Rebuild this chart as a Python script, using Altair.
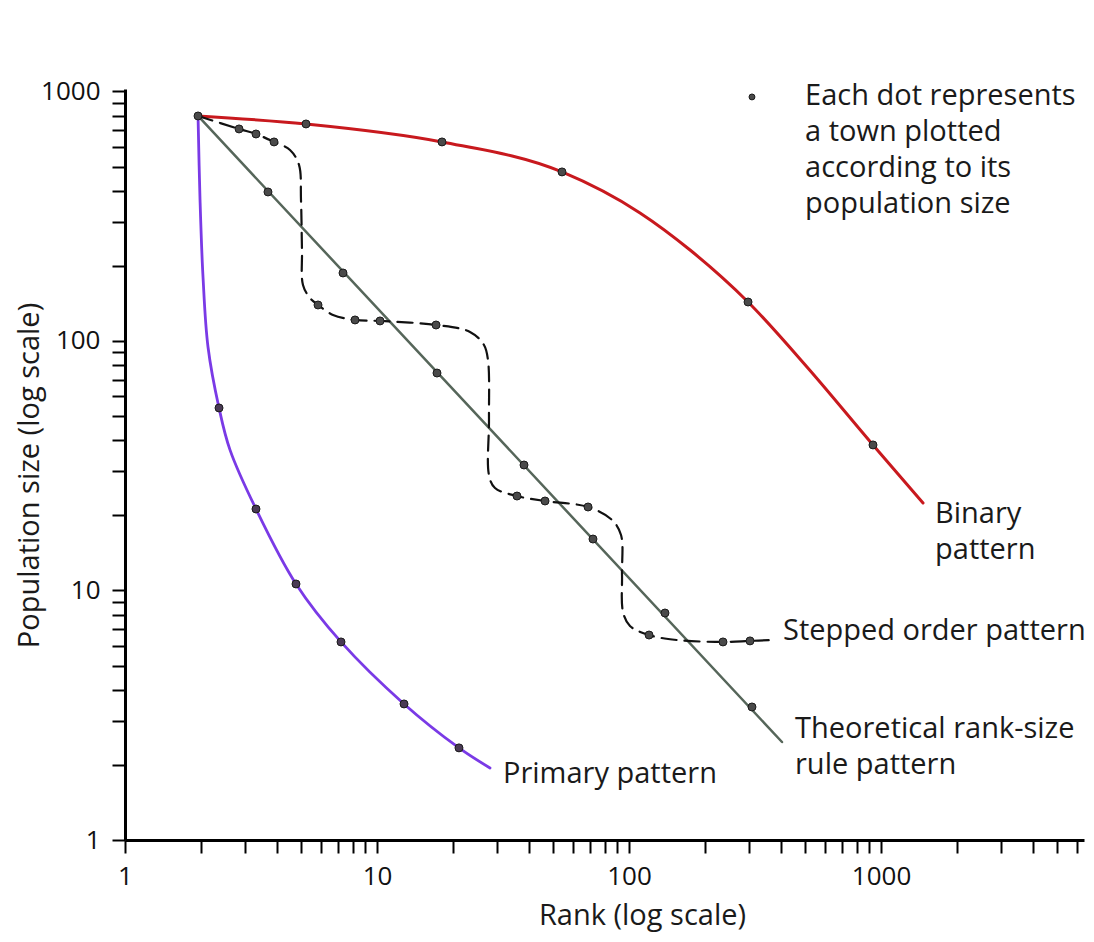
import altair as alt
import pandas as pd

# ---------------- data ----------------
x_ticks = [1, 2, 3, 4, 5, 6, 7, 8, 9,
           10, 20, 30, 40, 50, 60, 70, 80, 90,
           100, 200, 300, 400, 500, 600, 700, 800, 900,
           1000, 2000, 3000, 4000, 5000, 6000]
y_ticks = [1, 2, 3, 4, 5, 6, 7, 8, 9,
           10, 20, 30, 40, 50, 60, 70, 80, 90,
           100, 200, 300, 400, 500, 600, 700, 800, 900, 1000]

# Binary pattern (curve)
binary_rank = [1.949, 5.227, 18.11, 54.22, 110.6, 174.7, 296.7, 508.5, 929.3, 1468]
binary_pop = [797.6, 740.9, 627.6, 475.9, 325.9, 231.5, 143.3, 78.65, 38.31, 22.42]
binary_dot_rank = [5.227, 18.11, 54.22, 296.7, 929.3]
binary_dot_pop = [740.9, 627.6, 475.9, 143.3, 38.31]

# Theoretical rank-size rule (straight line)
theory_rank = [1.949, 404.7]
theory_pop = [797.6, 2.47]
theory_dot_rank = [3.693, 7.33, 17.30, 38.31, 71.95, 138.9, 307.6]
theory_dot_pop = [395.6, 187.3, 74.4, 31.84, 16.08, 8.125, 3.413]

# Stepped order pattern (dashed)
stepped_rank = [1.949, 2.835, 3.310, 3.903, 4.516, 4.903, 4.993, 5.039, 5.085,
                5.422, 5.834, 6.690, 8.180, 10.28, 17.15, 23.39, 26.58, 27.57,
                27.82, 27.82, 29.39, 35.94, 46.42, 68.77, 85.6, 92.96, 93.8,
                94.7, 100.9, 120.1, 155.0, 236.0, 302.1, 369.4]
stepped_pop = [797.6, 707.6, 675.4, 627.6, 582.9, 507.6, 367.4, 231.5, 167.6,
               148.7, 139.4, 127.2, 121.4, 120.3, 115.9, 108.7, 96.4, 83.9,
               48.25, 29.03, 25.75, 23.91, 22.84, 21.61, 19.17, 16.69, 11.54,
               8.20, 7.21, 6.63, 6.33, 6.22, 6.28, 6.33]
stepped_dot_rank = [2.835, 3.310, 3.903, 5.834, 8.180, 10.28, 17.15,
                    35.94, 46.42, 68.77, 120.1, 236.0, 302.1]
stepped_dot_pop = [707.6, 675.4, 627.6, 139.4, 121.4, 120.3, 115.9,
                   23.91, 22.84, 21.61, 6.63, 6.22, 6.28]

# Primary pattern (curve)
primary_rank = [1.949, 1.985, 2.040, 2.135, 2.361, 2.610, 3.310,
                4.770, 7.197, 12.80, 21.15, 28.08]
primary_pop = [797.6, 367.4, 180.0, 94.6, 53.9, 36.6, 21.21,
               10.62, 6.22, 3.51, 2.34, 1.944]
primary_dot_rank = [2.361, 3.310, 4.770, 7.197, 12.80, 21.15]
primary_dot_pop = [53.9, 21.21, 10.62, 6.22, 3.51, 2.34]

start_rank = [1.949]
start_pop = [797.6]

label_text = ["Binary\npattern", "Stepped order pattern",
              "Theoretical rank-size\nrule pattern", "Primary pattern",
              "Each dot represents\na town plotted\naccording to its\npopulation size"]
label_rank = [1638, 408.3, 455.8, 31.62, 499.6]
label_pop = [18.64, 6.33, 2.564, 1.692, 883]

legend_dot_rank = [307.6]
legend_dot_pop = [950.6]

FONT = "Open Sans"


def frame(xs, ys):
    return pd.DataFrame({"rank": xs, "pop": ys, "order": list(range(len(xs)))})


xscale = alt.Scale(type="log", domain=[1, 6390], nice=False)
yscale = alt.Scale(type="log", domain=[1, 1023], nice=False)

major_expr = "indexof([1, 10, 100, 1000], datum.value) >= 0 ? toString(datum.value) : ''"

xaxis = alt.Axis(values=x_ticks, labelExpr=major_expr, title="Rank (log scale)",
                 grid=False, labelOverlap=False, labelFlush=False, labelBound=False,
                 labelPadding=10, titleX=517, titleY=84, titleBaseline="alphabetic",
                 titleAlign="center", titleAnchor="start")
yaxis = alt.Axis(values=y_ticks, labelExpr=major_expr, title="Population size (log scale)",
                 grid=False, labelOverlap=False, labelFlush=False, labelBound=False,
                 labelPadding=12, titleX=-87, titleY=386, titleBaseline="alphabetic",
                 titleAlign="center", titleAngle=-90, titleAnchor="start")

X = alt.X("rank:Q", scale=xscale, axis=xaxis)
Y = alt.Y("pop:Q", scale=yscale, axis=yaxis)


def line_layer(xs, ys, color, width, interp, dash=None):
    kw = dict(color=color, strokeWidth=width, interpolate=interp, strokeCap="round")
    if dash is not None:
        kw["strokeDash"] = dash
    return alt.Chart(frame(xs, ys)).mark_line(**kw).encode(x=X, y=Y, order="order:Q")


def dot_layer(xs, ys, size=64, fill="#4a4a4a"):
    return alt.Chart(frame(xs, ys)).mark_point(
        filled=True, size=size, color=fill, stroke="#1a1a1a", strokeWidth=1, opacity=1
    ).encode(x=X, y=Y)


binary_line = line_layer(binary_rank, binary_pop, "#c8191e", 3, "monotone")
theory_line = line_layer(theory_rank, theory_pop, "#56665a", 2.5, "linear")
stepped_line = line_layer(stepped_rank, stepped_pop, "#111111", 2.2, "catmull-rom", dash=[15, 8])
primary_line = line_layer(primary_rank, primary_pop, "#7a3ae6", 2.8, "catmull-rom")

dots = [
    dot_layer(binary_dot_rank, binary_dot_pop),
    dot_layer(theory_dot_rank, theory_dot_pop),
    dot_layer(stepped_dot_rank, stepped_dot_pop),
    dot_layer(primary_dot_rank, primary_dot_pop, fill="#4a3a55"),
    dot_layer(start_rank, start_pop),
    dot_layer(legend_dot_rank, legend_dot_pop, size=35),
]

labels = alt.Chart(pd.DataFrame({"rank": label_rank, "pop": label_pop, "text": label_text})).mark_text(
    align="left", baseline="alphabetic", font=FONT, fontSize=29, lineHeight=36,
    lineBreak="\n", color="#1a1a1a"
).encode(x=X, y=Y, text="text:N")

chart = alt.layer(
    binary_line, theory_line, stepped_line, primary_line, *dots, labels
).properties(
    width=959, height=751,
    autosize=alt.AutoSizeParams(type="none"),
    padding={"left": 117, "top": 81, "right": 2, "bottom": 94},
).configure_view(stroke=None).configure_axis(
    domainColor="#000000", domainWidth=3, tickColor="#000000", tickWidth=2, tickSize=13,
    labelFont=FONT, labelFontSize=26, labelColor="#111111",
    titleFont=FONT, titleFontSize=29, titleFontWeight="normal", titleColor="#1a1a1a",
)

chart.save("out.html", embed_options={"renderer": "svg", "actions": False})
